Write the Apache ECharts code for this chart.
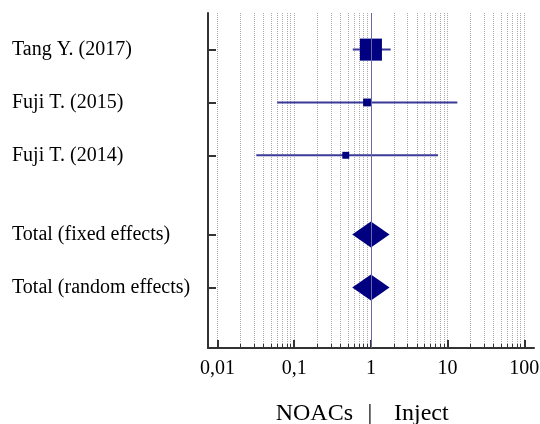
<!DOCTYPE html>
<html>
<head>
<meta charset="utf-8">
<script src="https://cdn.jsdelivr.net/npm/echarts@6/dist/echarts.min.js"></script>
<style>
html, body { margin: 0; padding: 0; background: #fff; }
#main { width: 540px; height: 424px; }
</style>
</head>
<body>
<div id="main"></div>
<script>
// studies
var studyNames = ['Tang Y. (2017)', 'Fuji T. (2015)', 'Fuji T. (2014)'];
var studyRows = [1, 2, 3];
var studyEst = [1.0, 0.89, 0.47];
var studyLow = [0.58, 0.060, 0.032];
var studyHigh = [1.81, 13.4, 7.5];
var studyWeight = [81.6, 10.3, 8.1];

// pooled
var totalNames = ['Total (fixed effects)', 'Total (random effects)'];
var totalRows = [4.5, 5.5];
var totalEst = [1.0, 1.0];
var totalLow = [0.57, 0.57];
var totalHigh = [1.75, 1.75];

var majorTicks = [0.01, 0.1, 1, 10, 100];
var minorTicks = [];
majorTicks.slice(0, 4).forEach(function (d) {
    for (var k = 2; k <= 9; k++) minorTicks.push(+(d * k).toPrecision(3));
});

var rowNames = {};
studyRows.forEach(function (r, i) { rowNames[r] = studyNames[i]; });
totalRows.forEach(function (r, i) { rowNames[r] = totalNames[i]; });
var allRows = studyRows.concat(totalRows);

var serif = 'Liberation Serif';

var myChart = echarts.init(document.getElementById('main'));

var gridLine = { show: true, lineStyle: { color: '#aaa', type: 'dotted', width: 1 } };

option = {
    animation: false,
    grid: { left: 208, right: 6, top: 13, bottom: 76, outerBoundsMode: 'none', containLabel: false },
    xAxis: [
        {
            type: 'log', logBase: 10, min: 0.0075, max: 134,
            position: 'bottom',
            axisLine: { show: true, lineStyle: { color: '#333', width: 2 } },
            axisTick: { show: true, inside: true, length: 8, customValues: majorTicks, lineStyle: { color: '#333', width: 2 } },
            axisLabel: {
                customValues: majorTicks, color: '#000', fontFamily: serif, fontSize: 20, margin: 11,
                formatter: function (v) { return String(v).replace('.', ','); }
            },
            splitLine: gridLine
        },
        {
            type: 'log', logBase: 10, min: 0.0075, max: 134,
            position: 'bottom',
            axisLine: { show: false },
            axisTick: { show: true, inside: true, length: 4, customValues: minorTicks, lineStyle: { color: '#333', width: 1 } },
            axisLabel: { show: false },
            splitLine: gridLine
        }
    ],
    yAxis: {
        type: 'value', inverse: true, min: 0.307, max: 6.647,
        axisLine: { show: true, lineStyle: { color: '#333', width: 2 } },
        axisTick: { show: true, inside: true, length: 8, customValues: allRows, lineStyle: { color: '#333', width: 2 } },
        axisLabel: {
            customValues: allRows, align: 'left', margin: 196, color: '#000', fontFamily: serif, fontSize: 20,
            formatter: function (v) { return rowNames[v] || ''; }
        },
        splitLine: { show: false }
    },
    graphic: [
        { type: 'text', x: 353, y: 414, style: { text: 'NOACs', fill: '#000', font: '24px "Liberation Serif"', align: 'right', verticalAlign: 'middle' } },
        { type: 'text', x: 370, y: 414, style: { text: '|', fill: '#000', font: '24px "Liberation Serif"', align: 'center', verticalAlign: 'middle' } },
        { type: 'text', x: 394, y: 414, style: { text: 'Inject', fill: '#000', font: '24px "Liberation Serif"', align: 'left', verticalAlign: 'middle' } }
    ],
    series: [
        {
            type: 'line', xAxisIndex: 0, data: [], symbol: 'none',
            markLine: {
                silent: true, symbol: 'none', label: { show: false },
                lineStyle: { color: '#6a6aa0', width: 1, type: 'solid' },
                data: [{ xAxis: 1 }]
            }
        },
        {
            type: 'custom', xAxisIndex: 0,
            data: studyRows.map(function (r, i) { return [studyEst[i], r, studyLow[i], studyHigh[i], studyWeight[i]]; }),
            encode: { x: [0, 2, 3], y: 1 },
            renderItem: function (params, api) {
                var row = api.value(1);
                var c = api.coord([api.value(0), row]);
                var l = api.coord([api.value(2), row]);
                var h = api.coord([api.value(3), row]);
                var s = Math.sqrt(api.value(4)) * 2.44;
                return {
                    type: 'group', children: [
                        { type: 'line', shape: { x1: l[0], y1: l[1], x2: h[0], y2: h[1] }, style: { stroke: '#3a3a98', lineWidth: 2 } },
                        { type: 'rect', shape: { x: c[0] - s / 2, y: c[1] - s / 2, width: s, height: s }, style: { fill: '#000080' } }
                    ]
                };
            }
        },
        {
            type: 'custom', xAxisIndex: 0,
            data: totalRows.map(function (r, i) { return [totalEst[i], r, totalLow[i], totalHigh[i]]; }),
            encode: { x: [0, 2, 3], y: 1 },
            renderItem: function (params, api) {
                var row = api.value(1);
                var c = api.coord([api.value(0), row]);
                var l = api.coord([api.value(2), row]);
                var h = api.coord([api.value(3), row]);
                return {
                    type: 'polygon',
                    shape: { points: [[l[0], c[1]], [c[0], c[1] - 13], [h[0], c[1]], [c[0], c[1] + 13]] },
                    style: { fill: '#000080' }
                };
            }
        }
    ]
};
myChart.setOption(option);
</script>
</body>
</html>
